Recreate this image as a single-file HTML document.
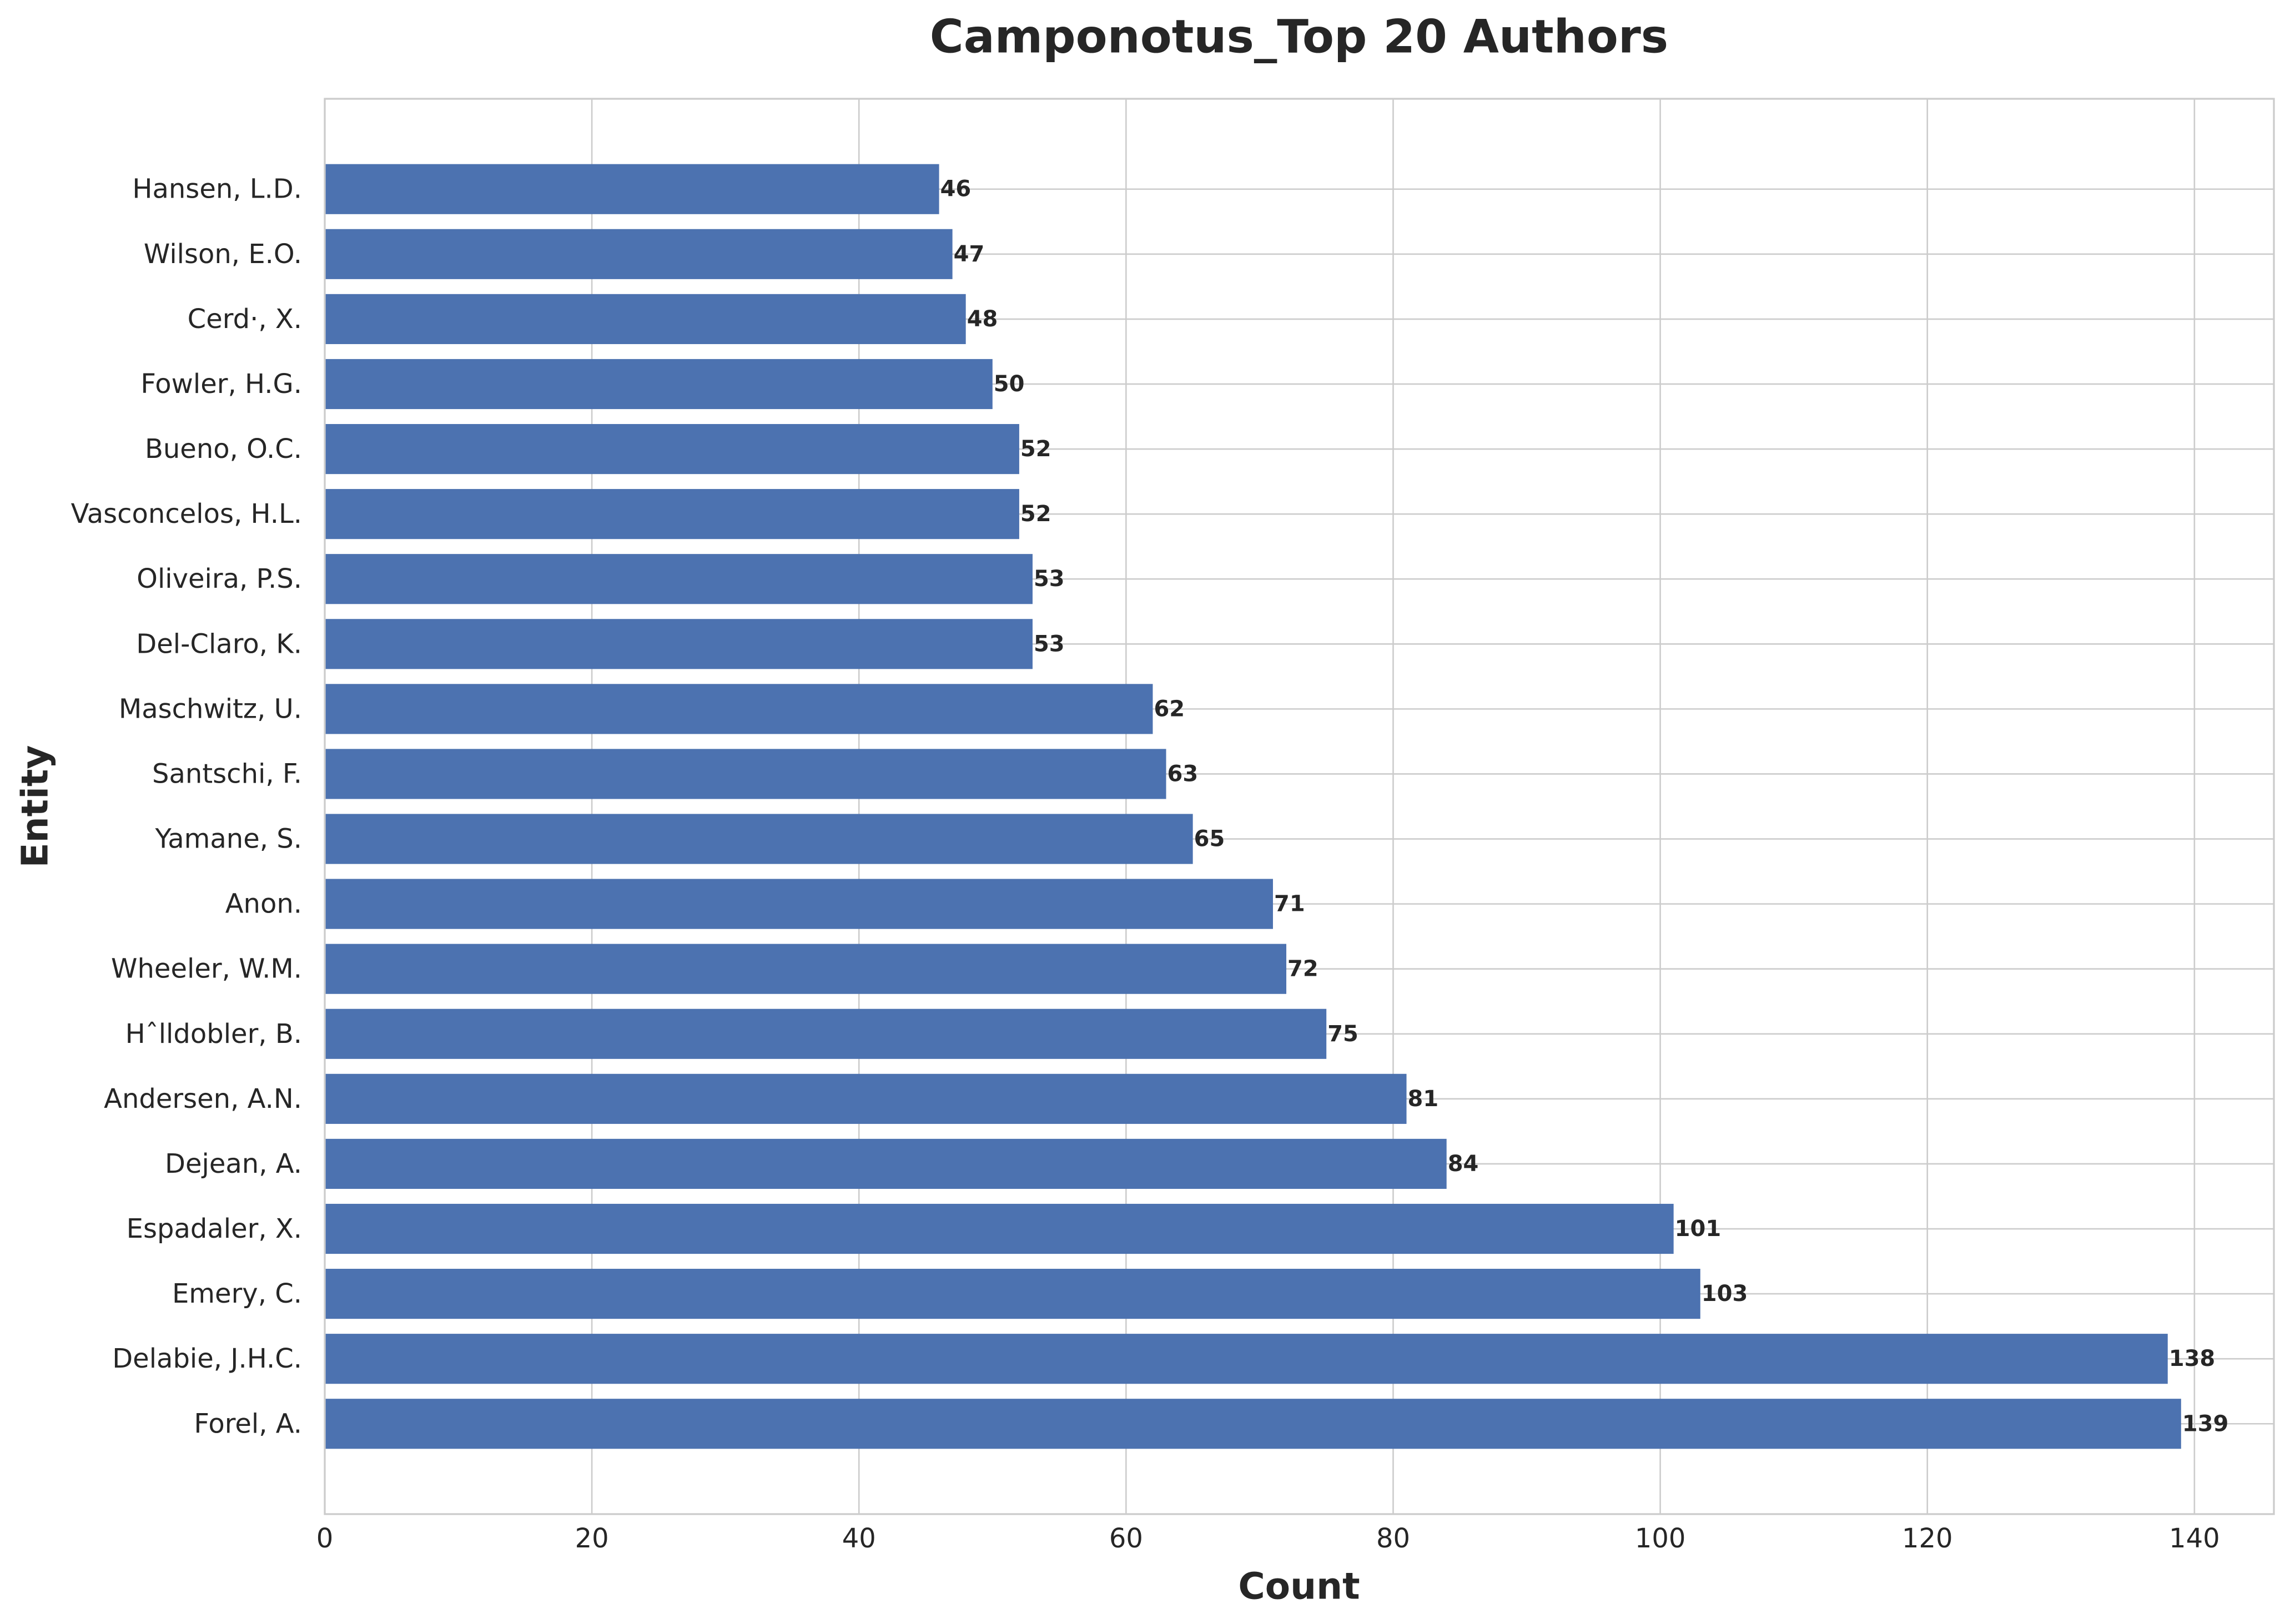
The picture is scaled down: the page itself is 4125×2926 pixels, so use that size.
<!DOCTYPE html>
<html><head><meta charset="utf-8"><style>
html,body{margin:0;padding:0;background:#fff;}
svg{display:block;font-family:"DejaVu Sans","Liberation Sans",sans-serif;}
</style></head><body>
<svg id="chart" width="4125" height="2926" viewBox="0 0 4125 2926" xmlns="http://www.w3.org/2000/svg">
<rect width="4125" height="2926" fill="#fff"/>
<text x="2340" y="66" text-anchor="middle" dominant-baseline="central" font-size="83" font-weight="bold" fill="#262626">Camponotus_Top 20 Authors</text>
<g id="grid"></g><g id="bars"></g><g id="labels"></g><g id="ticks"></g>
<rect x="585" y="178" width="3511" height="2550" fill="none" stroke="#cccccc" stroke-width="3.3"/>
<text x="2340" y="2858" text-anchor="middle" dominant-baseline="central" font-size="66" font-weight="bold" fill="#262626">Count</text>
<text transform="translate(63,1453) rotate(-90)" text-anchor="middle" dominant-baseline="central" font-size="66" font-weight="bold" fill="#262626">Entity</text>
</svg>
<script>
const categories = ["Forel, A.","Delabie, J.H.C.","Emery, C.","Espadaler, X.","Dejean, A.","Andersen, A.N.","Hˆlldobler, B.","Wheeler, W.M.","Anon.","Yamane, S.","Santschi, F.","Maschwitz, U.","Del-Claro, K.","Oliveira, P.S.","Vasconcelos, H.L.","Bueno, O.C.","Fowler, H.G.","Cerd·, X.","Wilson, E.O.","Hansen, L.D."];
const counts = [139,138,103,101,84,81,75,72,71,65,63,62,53,53,52,52,50,48,47,46];
const xTicks = [0,20,40,60,80,100,120,140];

const NS = "http://www.w3.org/2000/svg";
const L = 585, R = 4096, T = 178, B = 2728;
const xMax = Math.max(...counts) * 1.05;
const yMin = -0.4 - 0.05 * (categories.length - 0.2), yMax = categories.length - 0.6 + 0.05 * (categories.length - 0.2);
function xs(v){ return L + (v / xMax) * (R - L); }
function ys(i){ return B - (i - yMin) / (yMax - yMin) * (B - T); }
const step = ys(0) - ys(1);
function mk(tag, attrs, parent){ const e = document.createElementNS(NS, tag); for (const k in attrs) e.setAttribute(k, attrs[k]); parent.appendChild(e); return e; }
const grid = document.getElementById('grid'), bars = document.getElementById('bars'), labels = document.getElementById('labels'), ticks = document.getElementById('ticks');

xTicks.forEach(t => {
  const g = mk('line', {x1: xs(t), x2: xs(t), y1: T, y2: B, stroke: '#cccccc', 'stroke-width': 2.6}, grid);
  
  
  const tl = mk('text', {x: xs(t), y: 2772, 'text-anchor': 'middle', 'dominant-baseline': 'central', 'font-size': 48, fill: '#262626'}, ticks);
  tl.textContent = t;
  
  
});
categories.forEach((c, i) => {
  const y = ys(i);
  const gl = mk('line', {x1: L, x2: R, y1: y, y2: y, stroke: '#cccccc', 'stroke-width': 2.6}, grid);
  
  
  const h = step * 0.77;
  const b = mk('rect', {x: L, y: y - h/2, width: xs(counts[i]) - L, height: h, fill: '#4c72b0'}, bars);
  
  
  const v = mk('text', {x: xs(counts[i]) + 2, y: y, 'dominant-baseline': 'central', 'font-size': 40, 'font-weight': 'bold', fill: '#262626'}, labels);
  v.textContent = counts[i];
  
  
  const yl = mk('text', {x: 544, y: y, 'text-anchor': 'end', 'dominant-baseline': 'central', 'font-size': 48, fill: '#262626'}, ticks);
  yl.textContent = c;
  
  
});
</script>
</body></html>
